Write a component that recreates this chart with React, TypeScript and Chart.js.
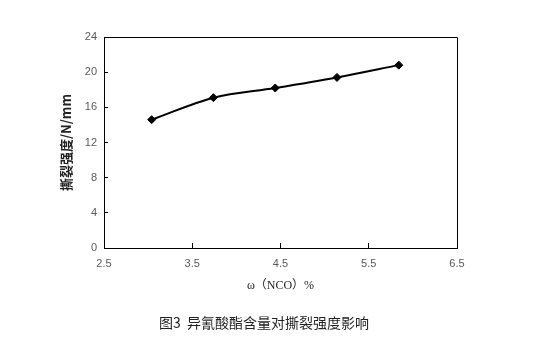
import React, { useEffect, useRef } from "react";
import { Chart, registerables } from "chart.js";

Chart.register(...registerables);

const nco = [3.04, 3.74, 4.44, 5.14, 5.84];
const tearStrength = [14.6, 17.1, 18.2, 19.4, 20.8];
const xTicks = [2.5, 3.5, 4.5, 5.5, 6.5];
const yTitle = "撕裂强度/N/mm";
const xTitle = "ω（NCO）%";
const caption = "图3  异氰酸酯含量对撕裂强度影响";

const framePlugin = {
  id: "frameAndCaption",
  afterDraw(chart: any) {
    const { ctx, chartArea } = chart;
    ctx.save();
    ctx.strokeStyle = "#000";
    ctx.lineWidth = 1;
    ctx.beginPath();
    ctx.moveTo(Math.round(chartArea.left) + 0.5, Math.round(chartArea.top) + 0.5);
    ctx.lineTo(Math.round(chartArea.right) + 0.5, Math.round(chartArea.top) + 0.5);
    ctx.lineTo(Math.round(chartArea.right) + 0.5, Math.round(chartArea.bottom) + 0.5);
    ctx.stroke();
    ctx.fillStyle = "#222";
    ctx.font = '14px "Noto Sans CJK SC", sans-serif';
    ctx.textAlign = "center";
    ctx.textBaseline = "middle";
    ctx.fillText(caption, 264, 323);
    ctx.restore();
  },
};

export default function App() {
  const ref = useRef<HTMLCanvasElement>(null);
  useEffect(() => {
    const chart = new Chart(ref.current!, {
      type: "line",
      data: {
        datasets: [
          {
            data: nco.map((x, i) => ({ x, y: tearStrength[i] })),
            borderColor: "#000",
            backgroundColor: "#000",
            borderWidth: 2,
            tension: 0.4,
            cubicInterpolationMode: "monotone",
            pointStyle: "rectRot",
            pointRadius: 4,
            pointBorderWidth: 1,
          },
        ],
      },
      options: {
        animation: false,
        responsive: false,
        layout: { padding: { top: 37, right: 87, bottom: 0, left: 0 } },
        plugins: { legend: { display: false }, tooltip: { enabled: false } },
        scales: {
          x: {
            type: "linear",
            min: 2.5,
            max: 6.5,
            afterBuildTicks: (s: any) => {
              s.ticks = xTicks.map((v) => ({ value: v }));
            },
            afterFit: (s: any) => {
              s.height = 94;
            },
            border: { color: "#000", width: 1 },
            grid: { drawOnChartArea: false, drawTicks: true, tickLength: -5, color: "#000" },
            ticks: {
              padding: 14,
              color: "#595959",
              font: { family: "Liberation Sans, Arial, sans-serif", size: 11 },
              callback: (v: any) => String(v),
            },
            title: {
              display: true,
              text: xTitle,
              color: "#222",
              font: { family: '"Liberation Serif", "Noto Sans CJK SC", serif', size: 12 },
              padding: { top: 0, bottom: 49 },
            },
          },
          y: {
            min: 0,
            max: 24,
            afterFit: (s: any) => {
              s.width = 104;
            },
            border: { color: "#000", width: 1 },
            grid: { drawOnChartArea: false, drawTicks: true, tickLength: -4, color: "#000" },
            ticks: {
              stepSize: 4,
              padding: 11,
              color: "#595959",
              font: { family: "Liberation Sans, Arial, sans-serif", size: 11 },
            },
            title: {
              display: true,
              text: yTitle,
              color: "#222",
              font: { family: '"Noto Sans CJK SC", sans-serif', size: 13, weight: "bold" },
              padding: { top: 58, bottom: 0 },
            },
          },
        },
      },
      plugins: [framePlugin],
    } as any);
    return () => chart.destroy();
  }, []);
  return (
    <div style={{ position: "fixed", left: 0, top: 0, width: 544, height: 342, background: "#fff" }}>
      <canvas ref={ref} width={544} height={342} />
    </div>
  );
}
